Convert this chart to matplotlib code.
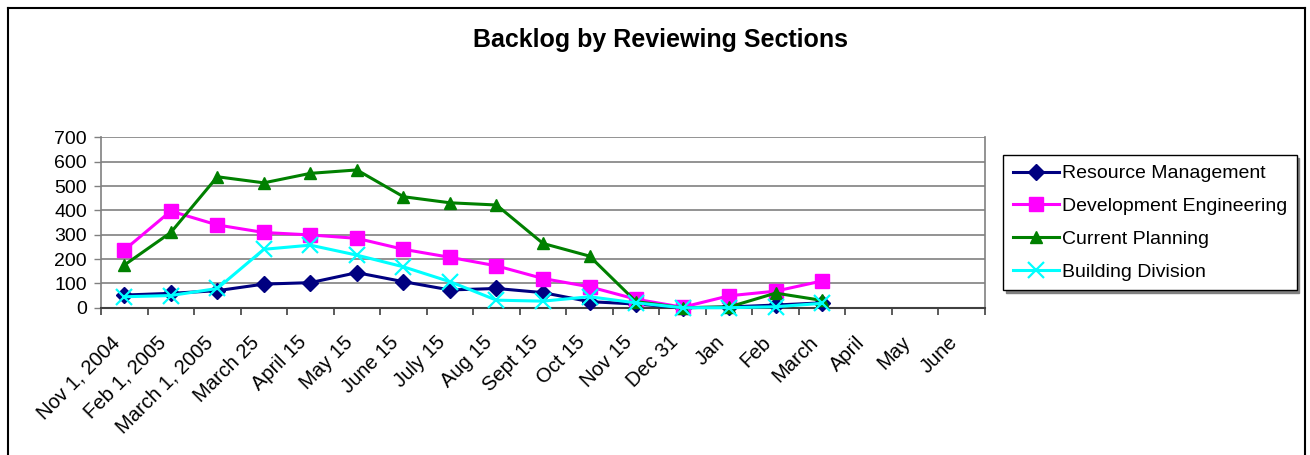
#Backlog by reviewing sections - line chart redrawn from the excel picture
import matplotlib
matplotlib.use('Agg') #no display here
import matplotlib.pyplot as plt
import matplotlib.transforms as mtransforms
from matplotlib.lines import Line2D
import numpy as np

#categories along the bottom
dates = ['Nov 1, 2004', 'Feb 1, 2005', 'March 1, 2005', 'March 25', 'April 15', 'May 15',
         'June 15', 'July 15', 'Aug 15', 'Sept 15', 'Oct 15', 'Nov 15', 'Dec 31',
         'Jan', 'Feb', 'March', 'April', 'May', 'June']

#backlog numbers (April - June have no data yet)
resource_mgmt = [52, 59, 70, 97, 103, 144, 107, 73, 79, 62, 25, 15, 0, 3, 11, 20]
dev_eng = [237, 397, 340, 309, 299, 285, 240, 207, 172, 120, 86, 35, 2, 49, 68, 110]
current_planning = [175, 309, 538, 513, 552, 566, 456, 431, 422, 264, 212, 25, 0, 3, 60, 30]
building_div = [45, 50, 79, 240, 257, 216, 168, 107, 31, 27, 45, 20, 0, 0, 4, 18]

names = ['Resource Management', 'Development Engineering', 'Current Planning', 'Building Division']
yticks = [0, 100, 200, 300, 400, 500, 600, 700]

plt.rcParams['font.family'] = ['Liberation Sans', 'DejaVu Sans']

fig = plt.figure(figsize=(13.1, 4.55), dpi=100)
ax = fig.add_axes([0.0771, 0.3237, 0.6748, 0.3745])

#one line per section, excel style colours and markers
series = [resource_mgmt, dev_eng, current_planning, building_div]
colors = ['#000080', '#FF00FF', '#008000', '#00FFFF']
markers = ['D', 's', '^', 'x']
sizes = [8.5, 10.5, 8, 11]
for i in range(4):
    vals = series[i]
    ax.plot(np.arange(len(vals)), vals, color=colors[i], marker=markers[i], markersize=sizes[i],
            markeredgewidth=1.6 if markers[i] == 'x' else 1, linewidth=2.2, label=names[i],
            clip_on=False, zorder=3 + i)

#axes limits and ticks
ax.set_xlim(-0.5, len(dates) - 0.5)
ax.set_ylim(0, 700)
ax.set_yticks(yticks)
ax.set_yticklabels([str(v) for v in yticks], fontsize=14)
ax.set_xticks(np.arange(len(dates)))
ax.set_xticklabels(dates, fontsize=14.5, rotation=45, ha='right', va='top', rotation_mode='anchor')
ax.set_xticks(np.arange(len(dates) + 1) - 0.5, minor=True)
ax.tick_params(axis='x', which='major', length=0, pad=18)
ax.tick_params(axis='x', which='minor', length=5, width=1.2, color='#404040')
ax.tick_params(axis='y', length=5, width=1, color='#808080', pad=5)

#shift the date labels a bit left like excel does
shift = mtransforms.ScaledTranslation(-14 / 100, 0, fig.dpi_scale_trans)
for lab in ax.get_xticklabels():
    lab.set_transform(lab.get_transform() + shift)

#gray gridlines
ax.yaxis.grid(True, color='#808080', linewidth=1.2)
ax.set_axisbelow(True)
ax.spines['top'].set_visible(False)
ax.spines['right'].set_color('#808080')
ax.spines['left'].set_color('#808080')
ax.spines['bottom'].set_color('#404040')
ax.spines['right'].set_linewidth(1.2)
ax.spines['left'].set_linewidth(1.2)
ax.spines['bottom'].set_linewidth(1.5)

#title
fig.text(0.504, 1 - 40 / 455, 'Backlog by Reviewing Sections', fontsize=18, fontweight='bold',
         ha='center', va='center')

#legend box on the right
leg = fig.legend(loc='upper left', bbox_to_anchor=(1003 / 1310, 1 - 155 / 455), fontsize=14,
                 frameon=True, fancybox=False, edgecolor='black', framealpha=1,
                 handlelength=2.4, handletextpad=0.12, labelspacing=0.78, borderpad=0.5,
                 borderaxespad=0, shadow={'color': '#808080', 'alpha': 1, 'ox': 2, 'oy': -2})
leg.get_frame().set_linewidth(1)

#chart area border (bottom is cut off in the picture)
fig.add_artist(Line2D([8 / 1310, 8 / 1310], [0, 1 - 8 / 455], color='black', linewidth=1.5))
fig.add_artist(Line2D([8 / 1310, 1305 / 1310], [1 - 8 / 455, 1 - 8 / 455], color='black', linewidth=1.5))
fig.add_artist(Line2D([1305 / 1310, 1305 / 1310], [0, 1 - 8 / 455], color='black', linewidth=1.5))

fig.savefig('out.png', dpi=100)
